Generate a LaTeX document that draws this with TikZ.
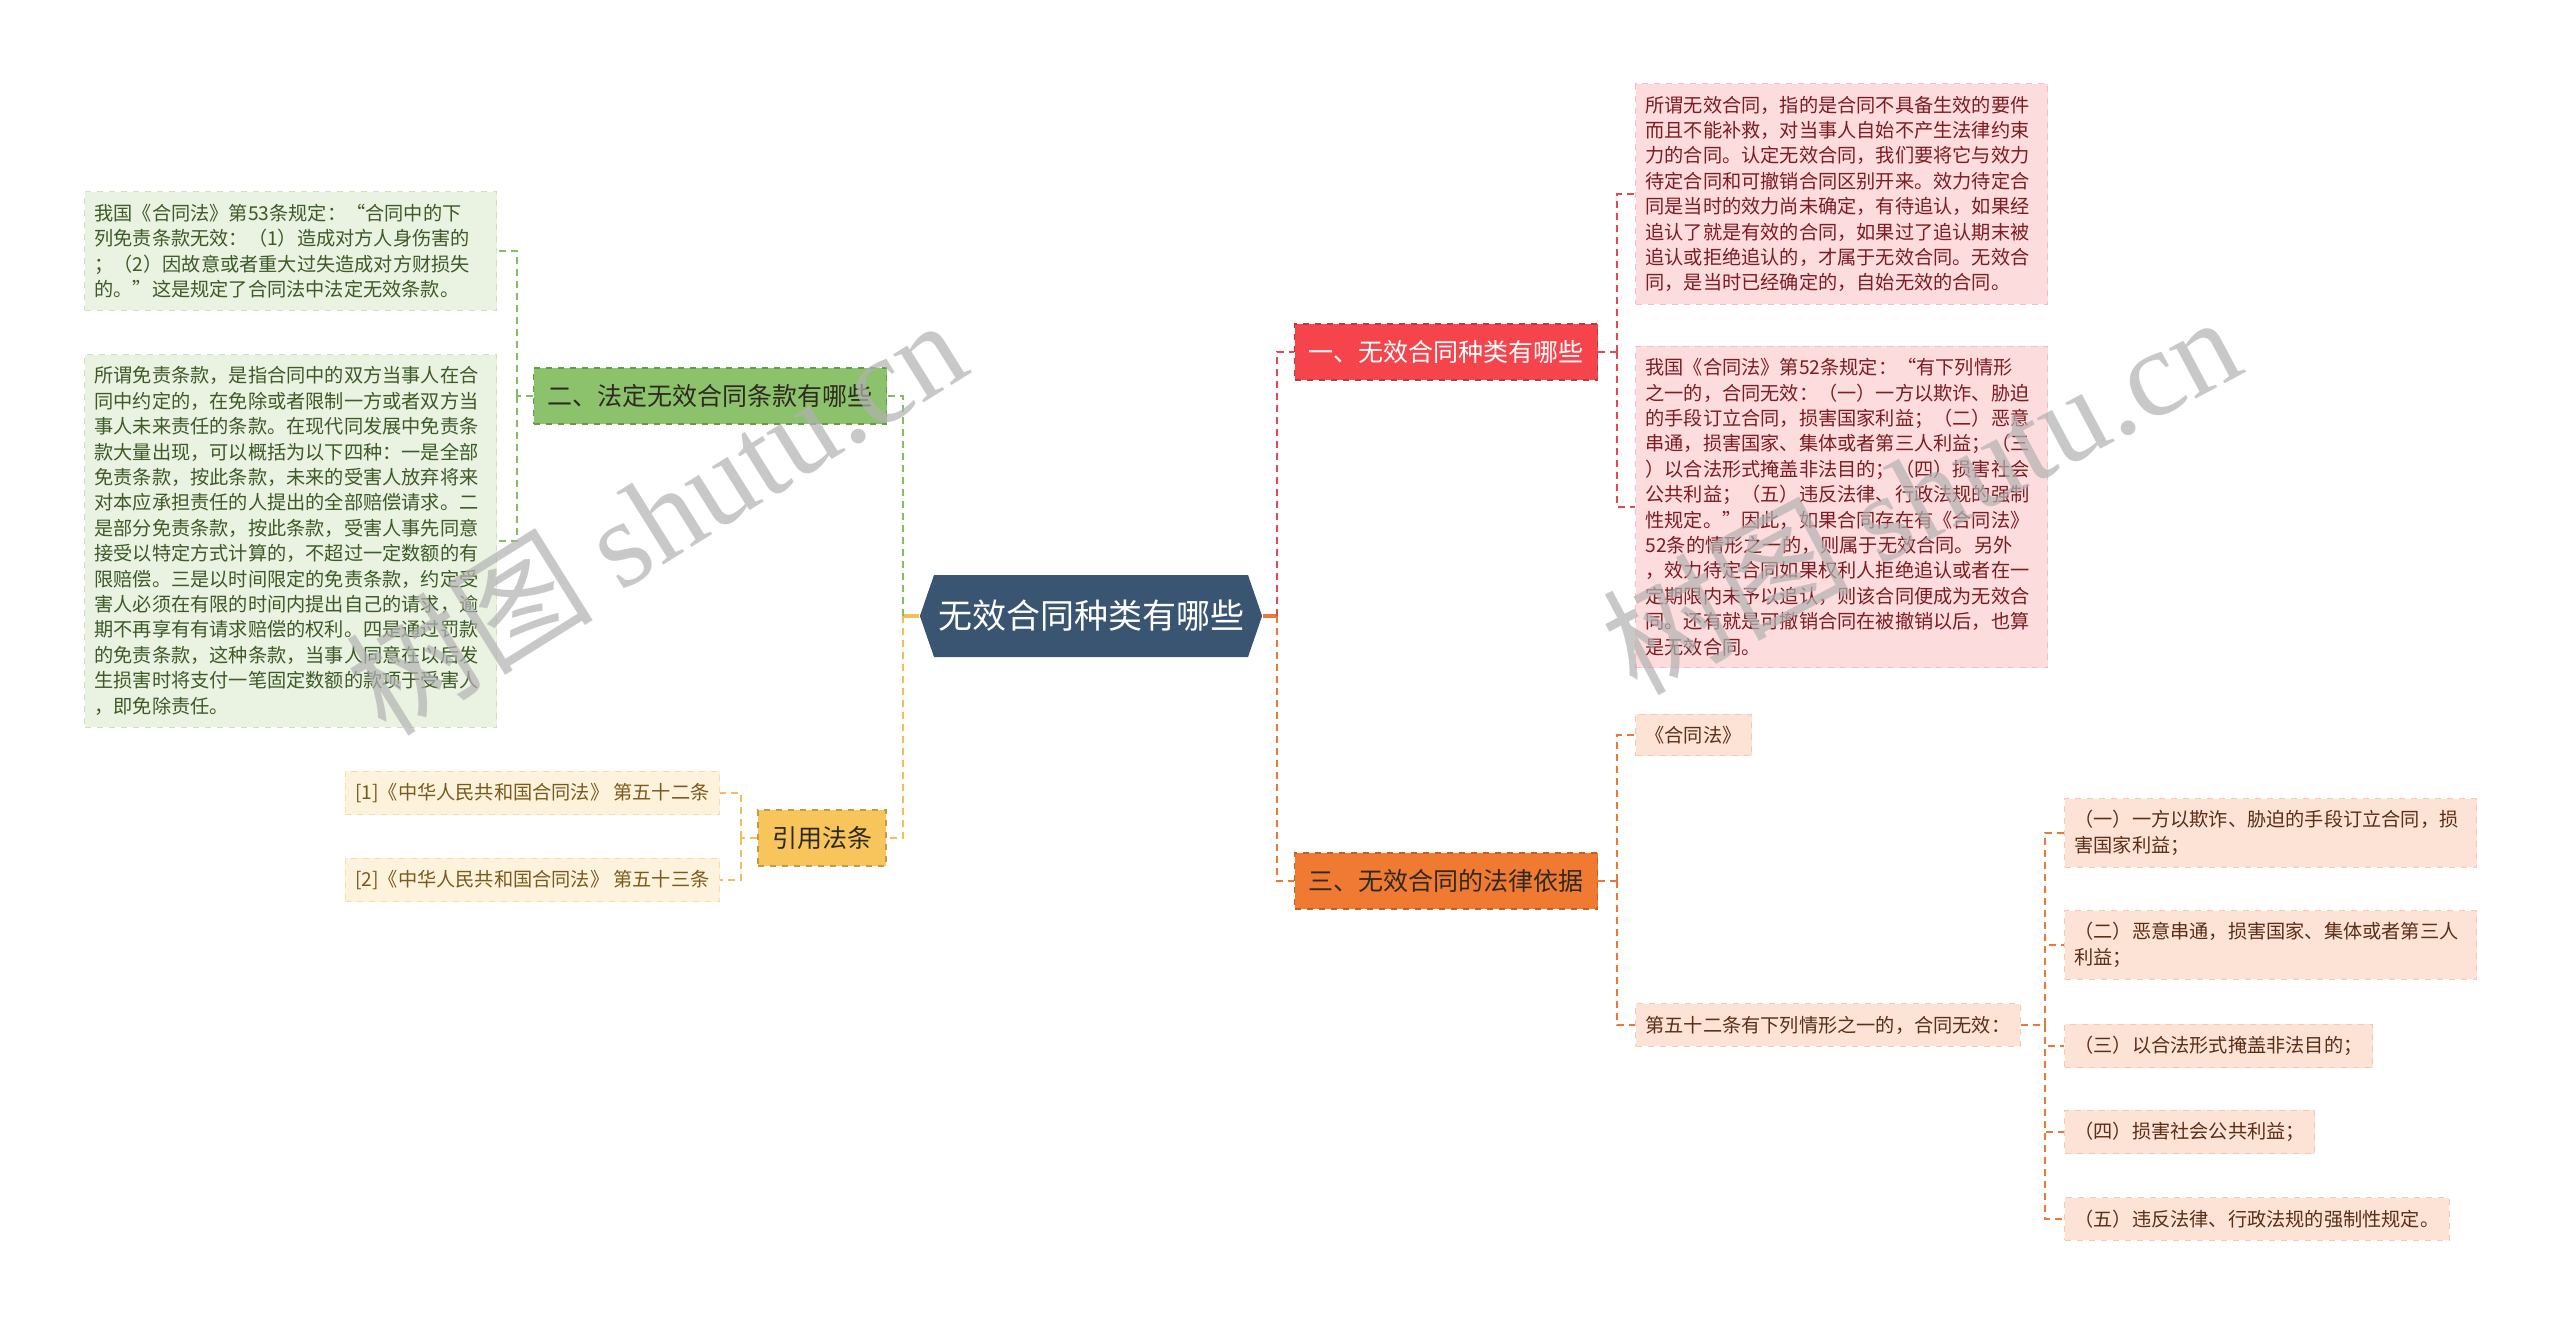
\documentclass[tikz,border=0pt]{standalone}
\usepackage{fontspec}
\setmainfont{Noto Sans CJK SC}
\newfontfamily\wmserif{Liberation Serif}
\usepackage{tikz}
\usetikzlibrary{shapes.symbols}
\definecolor{hubblue}{HTML}{3A5572}
\definecolor{topicred}{HTML}{F5444C}
\definecolor{topicgreen}{HTML}{8DC26C}
\definecolor{topicorange}{HTML}{F07A32}
\definecolor{topicyellow}{HTML}{F7C55B}
\definecolor{redline}{HTML}{E5484F}
\definecolor{greenline}{HTML}{86BC63}
\definecolor{orangeline}{HTML}{E9793A}
\definecolor{yellowline}{HTML}{F3BF55}
\definecolor{greenfill}{HTML}{EAF2E2}
\definecolor{greendraw}{HTML}{CFE0BE}
\definecolor{greentext}{HTML}{3D5A27}
\definecolor{pinkfill}{HTML}{FCDCDD}
\definecolor{pinkdraw}{HTML}{F3BDC1}
\definecolor{pinktext}{HTML}{7D1C22}
\definecolor{peachfill}{HTML}{FCE3D6}
\definecolor{peachdraw}{HTML}{F3C9B2}
\definecolor{peachtext}{HTML}{5B2E17}
\definecolor{creamfill}{HTML}{FDF3DD}
\definecolor{creamdraw}{HTML}{F3DDB0}
\definecolor{creamtext}{HTML}{7A5A1C}
\definecolor{topicdark}{HTML}{2E2A22}

\tikzset{
  hub/.style={signal, signal to=west and east, signal pointer angle=142, fill=hubblue,
    text=white, minimum width=169pt, minimum height=41pt, inner xsep=2pt,
    font=\fontsize{17}{20}\selectfont},
  topic/.style={draw, dashed, line width=0.6pt, inner xsep=7pt, minimum height=28pt,
    font=\fontsize{12.5}{15}\selectfont},
  leaf/.style={draw, dashed, line width=0.5pt, inner xsep=5pt, inner ysep=6pt,
    align=left, font=\fontsize{9.6}{12.7}\selectfont},
  greenleaf/.style={leaf, fill=greenfill, draw=greendraw, text=greentext, text width=196pt},
  pinkleaf/.style={leaf, fill=pinkfill, draw=pinkdraw, text=pinktext, text width=196pt},
  peachleaf/.style={leaf, fill=peachfill, draw=peachdraw, text=peachtext},
  creamleaf/.style={leaf, fill=creamfill, draw=creamdraw, text=creamtext},
  link/.style={dash pattern=on 3.5pt off 2.5pt, line width=1pt},
  stub/.style={line width=1.6pt},
  watermark/.style={text=black!30, text opacity=0.7, font=\fontsize{62}{70}\selectfont}
}

\begin{document}
\begin{tikzpicture}[x=0.5pt, y=-0.5pt]
  \useasboundingbox[fill=white] (0,0) rectangle (2560,1326);

  % centre and main topics
  \node[hub] (hub) at (1091,616) {无效合同种类有哪些};
  \node[topic, fill=topicred, draw=redline!80!black, text=white] (kinds) at (1446,352) {一、无效合同种类有哪些};
  \node[topic, fill=topicgreen, draw=greenline!80!black, text=topicdark] (clauses) at (710,396) {二、法定无效合同条款有哪些};
  \node[topic, fill=topicorange, draw=orangeline!80!black, text=topicdark] (basis) at (1446,881) {三、无效合同的法律依据};
  \node[topic, fill=topicyellow, draw=yellowline!80!black, text=topicdark] (refs) at (822,838) {引用法条};

  % left side
  \node[greenleaf, anchor=east] (art53) at (497,251) {%
    我国《合同法》第53条规定：“合同中的下\\
    列免责条款无效：（1）造成对方人身伤害的\\
    ；（2）因故意或者重大过失造成对方财损失\\
    的。”这是规定了合同法中法定无效条款。};
  \node[greenleaf, anchor=east] (exempt) at (497,541) {%
    所谓免责条款，是指合同中的双方当事人在合\\
    同中约定的，在免除或者限制一方或者双方当\\
    事人未来责任的条款。在现代同发展中免责条\\
    款大量出现，可以概括为以下四种：一是全部\\
    免责条款，按此条款，未来的受害人放弃将来\\
    对本应承担责任的人提出的全部赔偿请求。二\\
    是部分免责条款，按此条款，受害人事先同意\\
    接受以特定方式计算的，不超过一定数额的有\\
    限赔偿。三是以时间限定的免责条款，约定受\\
    害人必须在有限的时间内提出自己的请求，逾\\
    期不再享有有请求赔偿的权利。四是通过罚款\\
    的免责条款，这种条款，当事人同意在以后发\\
    生损害时将支付一笔固定数额的款项于受害人\\
    ，即免除责任。};
  \node[creamleaf, anchor=east] (cite1) at (720,793) {[1]《中华人民共和国合同法》 第五十二条};
  \node[creamleaf, anchor=east] (cite2) at (720,880) {[2]《中华人民共和国合同法》 第五十三条};

  % right side
  \node[pinkleaf, anchor=west] (meaning) at (1635,194) {%
    所谓无效合同，指的是合同不具备生效的要件\\
    而且不能补救，对当事人自始不产生法律约束\\
    力的合同。认定无效合同，我们要将它与效力\\
    待定合同和可撤销合同区别开来。效力待定合\\
    同是当时的效力尚未确定，有待追认，如果经\\
    追认了就是有效的合同，如果过了追认期末被\\
    追认或拒绝追认的，才属于无效合同。无效合\\
    同，是当时已经确定的，自始无效的合同。};
  \node[pinkleaf, anchor=west] (art52) at (1635,507) {%
    我国《合同法》第52条规定：“有下列情形\\
    之一的，合同无效：（一）一方以欺诈、胁迫\\
    的手段订立合同，损害国家利益；（二）恶意\\
    串通，损害国家、集体或者第三人利益；（三\\
    ）以合法形式掩盖非法目的；（四）损害社会\\
    公共利益；（五）违反法律、行政法规的强制\\
    性规定。”因此，如果合同存在有《合同法》\\
    52条的情形之一的，则属于无效合同。另外\\
    ，效力待定合同如果权利人拒绝追认或者在一\\
    定期限内未予以追认，则该合同便成为无效合\\
    同。还有就是可撤销合同在被撤销以后，也算\\
    是无效合同。};
  \node[peachleaf, anchor=west] (law) at (1635,735) {《合同法》};
  \node[peachleaf, anchor=west] (cases) at (1635,1025) {第五十二条有下列情形之一的，合同无效：};
  \node[peachleaf, anchor=west, text width=196pt] (g1) at (2064,833) {（一）一方以欺诈、胁迫的手段订立合同，损\\害国家利益；};
  \node[peachleaf, anchor=west, text width=196pt] (g2) at (2064,945) {（二）恶意串通，损害国家、集体或者第三人\\利益；};
  \node[peachleaf, anchor=west] (g3) at (2064,1046) {（三）以合法形式掩盖非法目的；};
  \node[peachleaf, anchor=west] (g4) at (2064,1132) {（四）损害社会公共利益；};
  \node[peachleaf, anchor=west] (g5) at (2064,1219) {（五）违反法律、行政法规的强制性规定。};

  % connectors
  \coordinate (jl) at (903,616);
  \coordinate (jr) at (1277,616);
  \coordinate (jc) at (517,396);
  \coordinate (jy) at (741,838);
  \coordinate (jk) at (1617,352);
  \coordinate (jb) at (1617,881);
  \coordinate (jf) at (2045,1025);
  \draw[stub, yellowline] (hub.west) -- (jl);
  \draw[stub, orangeline] (hub.east) -- (jr);
  \draw[link, greenline] (jl) |- (clauses.east);
  \draw[link, yellowline] (jl) |- (refs.east);
  \draw[link, redline] (jr) |- (kinds.west);
  \draw[link, orangeline] (jr) |- (basis.west);
  \draw[link, greenline] (clauses.west) -- (jc);
  \foreach \n in {art53, exempt} \draw[link, greenline] (jc) |- (\n.east);
  \draw[link, yellowline] (refs.west) -- (jy);
  \foreach \n in {cite1, cite2} \draw[link, yellowline] (jy) |- (\n.east);
  \draw[link, redline] (kinds.east) -- (jk);
  \foreach \n in {meaning, art52} \draw[link, redline] (jk) |- (\n.west);
  \draw[link, orangeline] (basis.east) -- (jb);
  \foreach \n in {law, cases} \draw[link, orangeline] (jb) |- (\n.west);
  \draw[link, orangeline] (cases.east) -- (jf);
  \foreach \n in {g1, g2, g3, g4, g5} \draw[link, orangeline] (jf) |- (\n.west);

  % watermarks
  \node[watermark, rotate=32] (wmleft) at (655,515) {树图 {\wmserif shutu.cn}};
  \node[watermark, rotate=28] (wmright) at (1920,492) {树图 {\wmserif shutu.cn}};
\end{tikzpicture}
\end{document}
